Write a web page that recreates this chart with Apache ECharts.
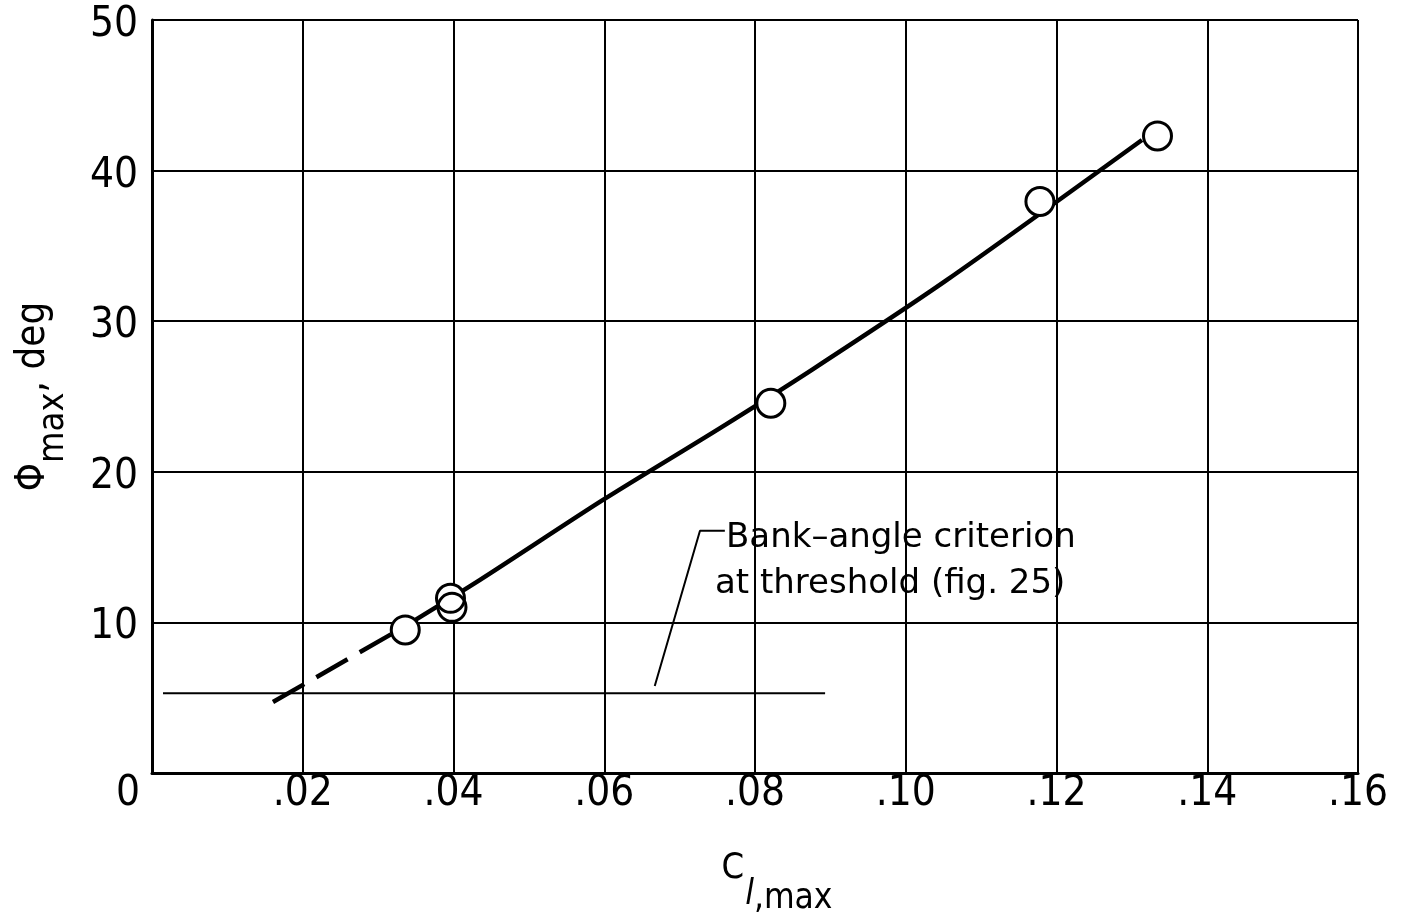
<!DOCTYPE html>
<html>
<head>
<meta charset="utf-8">
<script src="https://cdn.jsdelivr.net/npm/echarts@6/dist/echarts.min.js"></script>
<style>
  html, body { margin: 0; padding: 0; background: #fff; }
  #chart { width: 1409px; height: 919px; }
</style>
</head>
<body>
<div id="chart"></div>
<script>
// Measured peak bank angle against maximum rolling-moment coefficient
const pointX = [0.0336, 0.0396, 0.0398, 0.0821, 0.1178, 0.1334];
const pointY = [9.5, 11.6, 11.0, 24.55, 37.95, 42.3];

// Faired curve through the data; the low end is an extrapolation (dashed)
const fitDashedX = [0.01605, 0.0336];
const fitDashedY = [4.71, 9.75];
const fitSolidX = [0.0336, 0.04352, 0.05983, 0.07536, 0.0877, 0.10547, 0.13134];
const fitSolidY = [9.75, 12.82, 18.13, 22.9, 26.82, 32.74, 42.03];

// Bank-angle criterion at threshold and its leader line
const criterionX = [0.00146, 0.0893];
const criterionY = [5.3, 5.3];
const leaderX = [0.0667, 0.0727, 0.0760];
const leaderY = [5.78, 16.09, 16.09];

const noteLines = ['Bank\u2013angle criterion', 'at threshold (fig. 25)'];

const pairs = (xs, ys) => xs.map((x, i) => [x, ys[i]]);

const narrow = "'Liberation Sans Narrow', 'DejaVu Sans Condensed', sans-serif";
const wide = "'DejaVu Sans', sans-serif";

const chart = echarts.init(document.getElementById('chart'), null, { renderer: 'canvas' });

chart.setOption({
  animation: false,
  backgroundColor: '#fff',
  grid: { left: 152, top: 20, right: 51, bottom: 146, containLabel: false, outerBoundsMode: 'none' },
  xAxis: {
    type: 'value',
    min: 0, max: 0.16, interval: 0.02,
    name: '{c|C}{l|l}{s|,max}',
    nameLocation: 'middle',
    nameGap: 93,
    nameTextStyle: {
      padding: [0, 0, 0, 44],
      rich: {
        c: { fontFamily: narrow, fontSize: 36, lineHeight: 36, color: '#000', padding: [0, 0, 30, 0] },
        l: { fontFamily: narrow, fontSize: 35, fontStyle: 'italic', lineHeight: 36, color: '#000', padding: [26, 0, 4, 1] },
        s: { fontFamily: narrow, fontSize: 35, lineHeight: 36, color: '#000', padding: [30, 0, 0, 0] }
      }
    },
    axisLine: { show: true, onZero: false, lineStyle: { color: '#000', width: 3 } },
    axisTick: { show: false },
    splitLine: { show: true, lineStyle: { color: '#000', width: 2 } },
    axisLabel: {
      margin: 0,
      color: '#000',
      fontFamily: narrow,
      fontSize: 42,
      formatter: v => v === 0 ? '{z|0}' : v.toFixed(2).replace(/^0/, ''),
      rich: { z: { fontFamily: narrow, fontSize: 42, color: '#000', padding: [0, 48, 0, 0] } }
    }
  },
  yAxis: {
    type: 'value',
    min: 0, max: 50, interval: 10,
    name: '{p|\u03A6}{s|max}{m|, deg}',
    nameLocation: 'middle',
    nameRotate: 90,
    nameGap: 88,
    nameTextStyle: {
      rich: {
        p: { fontFamily: narrow, fontSize: 40, lineHeight: 40, color: '#000', padding: [0, 0, 20, 0] },
        s: { fontFamily: narrow, fontSize: 36, lineHeight: 40, color: '#000', padding: [20, 0, 0, 0] },
        m: { fontFamily: narrow, fontSize: 40, lineHeight: 40, color: '#000', padding: [0, 0, 20, 0] }
      }
    },
    axisLine: { show: true, onZero: false, lineStyle: { color: '#000', width: 3 } },
    axisTick: { show: false },
    splitLine: { show: true, lineStyle: { color: '#000', width: 2 } },
    axisLabel: {
      margin: 14,
      color: '#000',
      formatter: v => v === 0 ? '' : '{v|' + v + '}',
      rich: { v: { fontFamily: narrow, fontSize: 42, lineHeight: 42, color: '#000', padding: [10, 0, 0, 0] } }
    }
  },
  series: [
    {
      type: 'line', data: pairs(criterionX, criterionY), symbol: 'none',
      lineStyle: { color: '#000', width: 2 }, z: 3
    },
    {
      type: 'line', data: pairs(leaderX, leaderY), symbol: 'none',
      lineStyle: { color: '#000', width: 2 }, z: 3
    },
    {
      type: 'line', data: pairs(fitDashedX, fitDashedY), symbol: 'none',
      lineStyle: { color: '#000', width: 4.5, type: [36, 14] }, z: 4
    },
    {
      type: 'line', data: pairs(fitSolidX, fitSolidY), symbol: 'none', smooth: 0.25,
      lineStyle: { color: '#000', width: 4.5 }, z: 4
    },
    {
      // white discs hide the curve inside each open circle
      type: 'scatter', data: pairs(pointX, pointY), symbol: 'circle', symbolSize: 28,
      itemStyle: { color: '#fff', borderWidth: 0, opacity: 1 }, z: 5
    },
    {
      type: 'scatter', data: pairs(pointX, pointY), symbol: 'circle', symbolSize: 28,
      itemStyle: { color: 'rgba(0,0,0,0)', borderColor: '#000', borderWidth: 3, opacity: 1 }, z: 6
    }
  ],
  graphic: [
    {
      type: 'text', left: 726, top: 521, z: 10,
      style: { text: noteLines[0], font: '34px ' + wide, fill: '#000' }
    },
    {
      type: 'text', left: 715, top: 567, z: 10,
      style: { text: noteLines[1], font: '34px ' + wide, fill: '#000' }
    }
  ]
});
</script>
</body>
</html>
